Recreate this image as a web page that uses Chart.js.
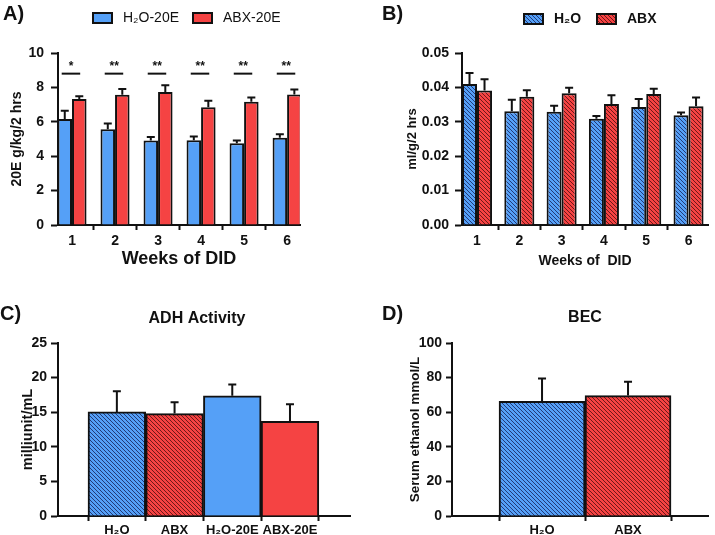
<!DOCTYPE html>
<html>
<head>
<meta charset="utf-8">
<script src="https://cdn.jsdelivr.net/npm/chart.js@4.4.0/dist/chart.umd.min.js"></script>
<style>
  body { margin: 0; background: #fff; width: 715px; height: 535px; position: relative; overflow: hidden; }
  .panel { position: absolute; }
</style>
</head>
<body>
<div class="panel" style="left:0;top:0"><canvas id="chartA" width="357" height="270"></canvas></div>
<div class="panel" style="left:357px;top:0"><canvas id="chartB" width="358" height="270"></canvas></div>
<div class="panel" style="left:0;top:270px"><canvas id="chartC" width="357" height="265"></canvas></div>
<div class="panel" style="left:357px;top:270px"><canvas id="chartD" width="358" height="265"></canvas></div>
<script>
// panel A - 20E intake per week
const weeks = [1, 2, 3, 4, 5, 6];
const h2o20e = [6.17, 5.57, 4.91, 4.93, 4.76, 5.07];
const h2o20eErr = [0.47, 0.33, 0.20, 0.22, 0.15, 0.21];
const abx20e = [7.32, 7.57, 7.73, 6.85, 7.17, 7.59];
const abx20eErr = [0.16, 0.33, 0.39, 0.37, 0.25, 0.29];
const sigMarks = ['*', '**', '**', '**', '**', '**'];

// panel B - water intake
const h2oWater = [0.0410, 0.0331, 0.0329, 0.0309, 0.0343, 0.0319];
const h2oWaterErr = [0.0032, 0.0033, 0.0018, 0.0008, 0.0023, 0.0008];
const abxWater = [0.0391, 0.0373, 0.0383, 0.0352, 0.0381, 0.0345];
const abxWaterErr = [0.0033, 0.0019, 0.0016, 0.0025, 0.0015, 0.0026];

// panel C - ADH activity
const adhGroups = ['H₂O', 'ABX', 'H₂O-20E', 'ABX-20E'];
const adhValues = [15.04, 14.80, 17.36, 13.68];
const adhErr = [3.00, 1.64, 1.64, 2.47];

// panel D - BEC
const becGroups = ['H₂O', 'ABX'];
const becValues = [66.3, 69.6];
const becErr = [13.2, 8.0];

const FONT = "'Liberation Sans', Arial, sans-serif";
const INK = '#111';
const BLUE = '#55a0f7';
const RED = '#f54343';
Chart.defaults.color = INK;
Chart.defaults.font.family = FONT;

function hatch(bg, line) {
  const c = document.createElement('canvas');
  c.width = 4; c.height = 4;
  const g = c.getContext('2d');
  g.fillStyle = bg;
  g.fillRect(0, 0, 4, 4);
  g.strokeStyle = line;
  g.lineWidth = 1;
  g.beginPath();
  [-4, 0, 4].forEach(o => { g.moveTo(o - 1, -1); g.lineTo(o + 5, 5); });
  g.stroke();
  return g.createPattern(c, 'repeat');
}
const BLUE_H = hatch(BLUE, '#223a78');
const RED_H = hatch(RED, '#6e1818');

// error bars drawn on top of each bar
const errorBars = {
  id: 'errorBars',
  afterDatasetsDraw(chart) {
    const ctx = chart.ctx, y = chart.scales.y;
    chart.data.datasets.forEach((ds, i) => {
      chart.getDatasetMeta(i).data.forEach((bar, j) => {
        const top = y.getPixelForValue(ds.data[j].y + ds.errors[j]);
        ctx.save();
        ctx.strokeStyle = INK;
        ctx.lineWidth = 2;
        ctx.beginPath();
        ctx.moveTo(bar.x, bar.y);
        ctx.lineTo(bar.x, top);
        ctx.moveTo(bar.x - 4, top);
        ctx.lineTo(bar.x + 4, top);
        ctx.stroke();
        ctx.restore();
      });
    });
  }
};

// panel letter, legend and heading
function annotate(cfg) {
  return {
    id: 'annotate',
    afterDraw(chart) {
      const ctx = chart.ctx;
      ctx.save();
      ctx.fillStyle = INK;
      ctx.font = 'bold 20px ' + FONT;
      ctx.textBaseline = 'alphabetic';
      ctx.textAlign = 'left';
      ctx.fillText(cfg.letter, cfg.lx, cfg.ly);
      if (cfg.title) {
        ctx.font = 'bold 16px ' + FONT;
        ctx.textAlign = 'center';
        ctx.textBaseline = 'middle';
        ctx.fillText(cfg.title, cfg.tx, cfg.ty);
      }
      (cfg.legend || []).forEach(it => {
        ctx.fillStyle = it.fill;
        ctx.fillRect(it.x, it.y, 19, 10);
        ctx.strokeStyle = INK;
        ctx.lineWidth = 2;
        ctx.strokeRect(it.x, it.y, 19, 10);
        ctx.fillStyle = INK;
        ctx.font = cfg.legendFont;
        ctx.textAlign = 'left';
        ctx.textBaseline = 'middle';
        ctx.fillText(it.text, it.x + 30, it.y + 5);
      });
      ctx.restore();
    }
  };
}

// significance bars for panel A
const sigPlugin = {
  id: 'sig',
  afterDatasetsDraw(chart) {
    const ctx = chart.ctx, x = chart.scales.x, y = chart.scales.y;
    ctx.save();
    ctx.strokeStyle = INK;
    ctx.fillStyle = INK;
    ctx.lineWidth = 2;
    ctx.font = 'bold 12px ' + FONT;
    ctx.textAlign = 'center';
    ctx.textBaseline = 'middle';
    weeks.forEach((w, i) => {
      const ly = y.getPixelForValue(8.8);
      ctx.beginPath();
      ctx.moveTo(x.getPixelForValue(w - 0.24), ly);
      ctx.lineTo(x.getPixelForValue(w + 0.19), ly);
      ctx.stroke();
      ctx.fillText(sigMarks[i], x.getPixelForValue(w - 0.02), y.getPixelForValue(9.2));
    });
    ctx.restore();
  }
};

function yAxis(o) {
  return {
    min: 0, max: o.max,
    ticks: { stepSize: o.step, padding: o.pad, font: { size: 14, weight: 'bold' }, callback: o.fmt },
    grid: { drawOnChartArea: false, tickLength: o.tl, tickColor: INK, tickWidth: 2 },
    border: { color: INK, width: 2 },
    title: { display: true, text: o.title, color: INK, font: { size: o.ts, weight: 'bold' }, padding: { top: 4, bottom: 4 } },
    afterFit(s) { s.width = o.width; }
  };
}

function xAxis(o) {
  return {
    type: 'linear', min: o.min, max: o.max, offset: false,
    afterBuildTicks(s) { s.ticks = o.values.map(v => ({ value: v })); },
    ticks: { padding: o.pad, autoSkip: false, maxRotation: 0, font: { size: o.fs, weight: 'bold' }, callback: o.fmt },
    grid: { drawOnChartArea: false, tickLength: 5, tickColor: INK, tickWidth: 2 },
    border: { color: INK, width: 2 },
    title: { display: !!o.title, text: o.title, color: INK, font: { size: o.ts, weight: 'bold' }, padding: { top: 2, bottom: 0 } },
    afterFit(s) { s.height = o.height; }
  };
}

function barSet(label, values, errs, xs, fill) {
  return {
    label: label,
    data: values.map((v, i) => ({ x: xs[i], y: v })),
    errors: errs,
    backgroundColor: fill,
    borderColor: INK,
    borderWidth: 2,
    borderSkipped: 'bottom'
  };
}

const common = {
  responsive: false,
  animation: false,
  events: [],
  plugins: { legend: { display: false }, tooltip: { enabled: false } }
};

// A
new Chart(document.getElementById('chartA').getContext('2d'), {
  type: 'bar',
  data: {
    datasets: [
      barSet('H₂O-20E', h2o20e, h2o20eErr, weeks, BLUE),
      barSet('ABX-20E', abx20e, abx20eErr, weeks, RED)
    ]
  },
  options: Object.assign({}, common, {
    layout: { padding: { left: 5, right: 57, top: 53, bottom: 0 } },
    datasets: { bar: { categoryPercentage: 0.675, barPercentage: 1 } },
    scales: {
      x: xAxis({ min: 0.674, max: 6.3, values: weeks, pad: 3, fs: 14, height: 45, title: 'Weeks of DID', ts: 18 }),
      y: yAxis({ max: 10, step: 2, pad: 7, tl: 7, width: 53, title: '20E g/kg/2 hrs', ts: 14 })
    }
  }),
  plugins: [errorBars, sigPlugin, annotate({
    letter: 'A)', lx: 3, ly: 20,
    legendFont: '14px ' + FONT,
    legend: [
      { text: 'H₂O-20E', fill: BLUE, x: 93, y: 13 },
      { text: 'ABX-20E', fill: RED, x: 193, y: 13 }
    ]
  })]
});

// B
new Chart(document.getElementById('chartB').getContext('2d'), {
  type: 'bar',
  data: {
    datasets: [
      barSet('H₂O', h2oWater, h2oWaterErr, weeks, BLUE_H),
      barSet('ABX', abxWater, abxWaterErr, weeks, RED_H)
    ]
  },
  options: Object.assign({}, common, {
    layout: { padding: { left: 44, right: 7, top: 53, bottom: 0 } },
    datasets: { bar: { categoryPercentage: 0.71, barPercentage: 1 } },
    scales: {
      x: xAxis({ min: 0.645, max: 6.46, values: weeks, pad: 3, fs: 14, height: 45, title: 'Weeks of  DID', ts: 14 }),
      y: yAxis({ max: 0.05, step: 0.01, pad: 6, tl: 7, width: 61, title: 'ml/g/2 hrs', ts: 13, fmt: v => v.toFixed(2) })
    }
  }),
  plugins: [errorBars, annotate({
    letter: 'B)', lx: 25, ly: 20,
    legendFont: 'bold 14px ' + FONT,
    legend: [
      { text: 'H₂O', fill: BLUE_H, x: 167, y: 14 },
      { text: 'ABX', fill: RED_H, x: 240, y: 14 }
    ]
  })]
});

// C
const adhIdx = adhGroups.map((g, i) => i);
new Chart(document.getElementById('chartC').getContext('2d'), {
  type: 'bar',
  data: {
    datasets: [barSet('ADH', adhValues, adhErr, adhIdx, [BLUE_H, RED_H, BLUE, RED])]
  },
  options: Object.assign({}, common, {
    layout: { padding: { left: 15, right: 7, top: 73, bottom: 0 } },
    datasets: { bar: { categoryPercentage: 1, barPercentage: 1 } },
    scales: {
      x: xAxis({ min: -1.02, max: 4.04, values: adhIdx, pad: 2, fs: 13, height: 19, fmt: v => adhGroups[v] }),
      y: yAxis({ max: 25, step: 5, pad: 4, tl: 7, width: 43, title: 'milliunit/mL', ts: 14.5 })
    }
  }),
  plugins: [errorBars, annotate({ letter: 'C)', lx: 0, ly: 50, title: 'ADH Activity', tx: 197, ty: 49 })]
});

// D
const becIdx = becGroups.map((g, i) => i);
new Chart(document.getElementById('chartD').getContext('2d'), {
  type: 'bar',
  data: {
    datasets: [barSet('BEC', becValues, becErr, becIdx, [BLUE_H, RED_H])]
  },
  options: Object.assign({}, common, {
    layout: { padding: { left: 46, right: 7, top: 73, bottom: 0 } },
    datasets: { bar: { categoryPercentage: 1, barPercentage: 1 } },
    scales: {
      x: xAxis({ min: -1.047, max: 1.93, values: becIdx, pad: 2, fs: 13, height: 19, fmt: v => becGroups[v] }),
      y: yAxis({ max: 100, step: 20, pad: 4, tl: 6, width: 49, title: 'Serum ethanol mmol/L', ts: 13.5 })
    }
  }),
  plugins: [errorBars, annotate({ letter: 'D)', lx: 25, ly: 50, title: 'BEC', tx: 228, ty: 48 })]
});
</script>
</body>
</html>
